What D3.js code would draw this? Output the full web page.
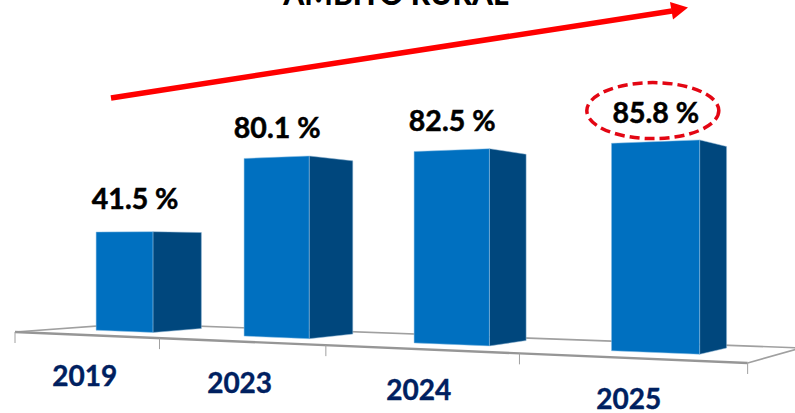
<!DOCTYPE html>
<head>
	<meta charset="utf-8">
	<title>Ambito rural</title>
	<style>
		body {
			margin: 0;
			padding: 0;
			background-color: #fff;
			overflow: hidden;
		}

		text {
			font-family: 'Lato', sans-serif;
			font-weight: 700;
		}

		.value { fill: #000; stroke: #000; stroke-width: 0.5px; font-size: 28.5px; text-anchor: middle; }
		.year { fill: #002060; stroke: #002060; stroke-width: 0.4px; font-size: 28px; text-anchor: middle; }
		.title { fill: #000; font-size: 30px; text-anchor: middle; font-weight: 900; }
	</style>
</head>
<body>
	<div id='vis'></div>

	<script src="https://cdn.jsdelivr.net/npm/d3@7"></script>
	<script>
		var years = ['2019', '2023', '2024', '2025'];
		var values = [41.5, 80.1, 82.5, 85.8];
		var titleText = 'ÁMBITO RURAL';

		var visWidth = 795,
				visHeight = 413;

		// the floor of the fake 3d chart: u runs along the front edge (0-1), e is depth
		var vanish = [1148, 250],
				squeeze = 0.263;

		var frontX = d3.scaleLinear().domain([0, 1]).range([15, 536 + 15]),
				frontY = d3.scaleLinear().domain([15, 748]).range([332, 363]);

		var floorBand = d3.scaleBand().domain(years).range([0, 1]),
				barBand = d3.scaleBand().domain(years).range([-0.008, 1.001])
					.paddingInner(0.6).paddingOuter(0.3);

		// tall bars are squashed in the picture, so height is not proportional to value
		var heightScale = d3.scaleLinear().domain([41.5, 80.1, 85.8]).range([100.5, 170, 171]);

		var barFront = 0.041,
				barBack = 0.092,
				floorBack = 0.113;

		function project(u, e, h) {
			var w0 = 1 - squeeze * u,
					x0 = frontX(u) / w0,
					y0 = frontY(x0),
					t = e / (w0 + e),
					x = x0 + t * (vanish[0] - x0),
					y = y0 + t * (vanish[1] - y0);
			return [x, y - (h || 0) / (w0 + e)];
		}

		var svg = d3.select('#vis').append('svg')
			.attr('width', visWidth)
			.attr('height', visHeight)
			.style('display', 'block');

		var line = d3.line();

		// title is cut by the top of the picture
		svg.append('text')
			.attr('class', 'title')
			.attr('x', 396)
			.attr('y', 5)
			.text(titleText);

		// floor
		var floor = svg.append('g')
			.attr('fill', 'none')
			.attr('stroke', '#a0a0a0')
			.attr('stroke-width', 2);

		floor.append('path')
			.attr('d', line([project(0, 0), project(0, floorBack), project(1, floorBack), project(1, 0)]))
			.attr('stroke-width', 1.6);

		floor.append('path')
			.attr('d', line([project(0, 0), project(1, 0)]))
			.attr('stroke', '#969696')
			.attr('stroke-width', 2.4);

		floor.selectAll('line')
			.data(d3.range(years.length + 1))
			.enter().append('line')
				.attr('stroke-width', 1)
				.attr('x1', function(d) { return project(d / years.length, 0)[0]; })
				.attr('x2', function(d) { return project(d / years.length, 0)[0]; })
				.attr('y1', function(d) { return project(d / years.length, 0)[1]; })
				.attr('y2', function(d) { return project(d / years.length, 0)[1] + 11; });

		// bars
		var bars = svg.append('g').selectAll('g')
			.data(years)
			.enter().append('g');

		function face(d, i, e0, e1, u0, u1) {
			var h = heightScale(values[i]);
			return line([project(u0, e0), project(u1, e1), project(u1, e1, h), project(u0, e0, h)]) + 'Z';
		}

		bars.append('path')
			.attr('fill', '#00477d')
			.attr('stroke', '#8fb4d2')
			.attr('stroke-width', 0.5)
			.attr('d', function(d, i) {
				var u = barBand(d) + barBand.bandwidth();
				return face(d, i, barFront, barBack, u, u);
			});

		bars.append('path')
			.attr('fill', '#0070c0')
			.attr('stroke', '#8fc0e4')
			.attr('stroke-width', 0.5)
			.attr('d', function(d, i) {
				var u = barBand(d);
				return face(d, i, barFront, barFront, u, u + barBand.bandwidth());
			});

		// value labels sit over the front face
		var labelPos = years.map(function(d, i) {
			var u = barBand(d) + barBand.bandwidth() / 2,
					p = project(u, barFront, heightScale(values[i]));
			return i == 0 ? [p[0] + 11, p[1] - 23] : [p[0] + 1, p[1] - 19];
		});

		svg.append('g').selectAll('text')
			.data(values)
			.enter().append('text')
				.attr('class', 'value')
				.attr('x', function(d, i) { return labelPos[i][0]; })
				.attr('y', function(d, i) { return labelPos[i][1]; })
				.text(function(d) { return d.toFixed(1) + ' %'; });

		// year labels
		svg.append('g').selectAll('text')
			.data(years)
			.enter().append('text')
				.attr('class', 'year')
				.attr('x', function(d) { return project(floorBand(d) + floorBand.bandwidth() / 2, 0)[0]; })
				.attr('y', function(d) { return project(floorBand(d) + floorBand.bandwidth() / 2, 0)[1] + 51; })
				.text(function(d) { return d; });

		// highlight on the last value
		var last = labelPos[labelPos.length - 1];
		svg.append('ellipse')
			.attr('cx', last[0] - 3)
			.attr('cy', last[1] - 12)
			.attr('rx', 66)
			.attr('ry', 28)
			.attr('fill', 'none')
			.attr('stroke', '#e30613')
			.attr('stroke-width', 3.5)
			.attr('stroke-dasharray', '10 5');

		// trend arrow
		svg.append('path')
			.attr('d', line([[111, 98], [672, 11]]))
			.attr('stroke', '#ff0000')
			.attr('stroke-width', 5.5)
			.attr('fill', 'none');

		svg.append('path')
			.attr('d', line([[670, 2], [688, 7.5], [673, 19.5]]) + 'Z')
			.attr('fill', '#ff0000');
	</script>
</body>
